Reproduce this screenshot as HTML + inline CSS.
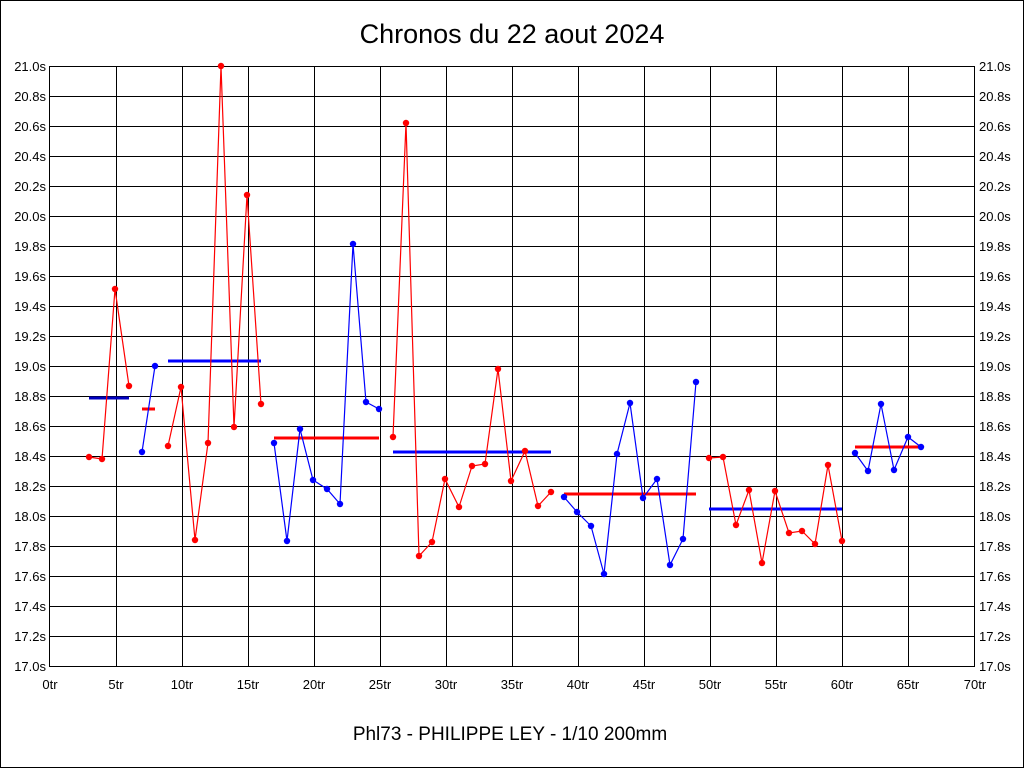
<!DOCTYPE html>
<html><head><meta charset="utf-8"><style>
html,body{margin:0;padding:0;background:#fff}
svg{display:block}
text{font-family:"Liberation Sans",sans-serif;fill:#000}
</style></head><body>
<svg width="1024" height="768" viewBox="0 0 1024 768" xmlns="http://www.w3.org/2000/svg">
<rect x="0.5" y="0.5" width="1023" height="767" fill="#fff" stroke="#000"/>
<text x="512" y="43" font-size="27" text-anchor="middle">Chronos du 22 aout 2024</text>
<text x="510" y="740" font-size="19" text-anchor="middle">Phl73 - PHILIPPE LEY - 1/10 200mm</text>
<g stroke="#000" stroke-width="1" fill="none" shape-rendering="crispEdges">
<rect x="49.5" y="66.5" width="925" height="600"/>
<path d="M116.5 66V666M182.5 66V666M248.5 66V666M314.5 66V666M380.5 66V666M446.5 66V666M512.5 66V666M578.5 66V666M644.5 66V666M710.5 66V666M776.5 66V666M842.5 66V666M908.5 66V666"/>
<path d="M50 96.5H975M50 126.5H975M50 156.5H975M50 186.5H975M50 216.5H975M50 246.5H975M50 276.5H975M50 306.5H975M50 336.5H975M50 366.5H975M50 396.5H975M50 426.5H975M50 456.5H975M50 486.5H975M50 516.5H975M50 546.5H975M50 576.5H975M50 606.5H975M50 636.5H975"/>
</g>
<g font-size="13" text-anchor="end">
<text x="46" y="71">21.0s</text><text x="46" y="101">20.8s</text><text x="46" y="131">20.6s</text><text x="46" y="161">20.4s</text><text x="46" y="191">20.2s</text><text x="46" y="221">20.0s</text><text x="46" y="251">19.8s</text><text x="46" y="281">19.6s</text><text x="46" y="311">19.4s</text><text x="46" y="341">19.2s</text><text x="46" y="371">19.0s</text><text x="46" y="401">18.8s</text><text x="46" y="431">18.6s</text><text x="46" y="461">18.4s</text><text x="46" y="491">18.2s</text><text x="46" y="521">18.0s</text><text x="46" y="551">17.8s</text><text x="46" y="581">17.6s</text><text x="46" y="611">17.4s</text><text x="46" y="641">17.2s</text><text x="46" y="671">17.0s</text>
</g>
<g font-size="13" text-anchor="start">
<text x="979" y="71">21.0s</text><text x="979" y="101">20.8s</text><text x="979" y="131">20.6s</text><text x="979" y="161">20.4s</text><text x="979" y="191">20.2s</text><text x="979" y="221">20.0s</text><text x="979" y="251">19.8s</text><text x="979" y="281">19.6s</text><text x="979" y="311">19.4s</text><text x="979" y="341">19.2s</text><text x="979" y="371">19.0s</text><text x="979" y="401">18.8s</text><text x="979" y="431">18.6s</text><text x="979" y="461">18.4s</text><text x="979" y="491">18.2s</text><text x="979" y="521">18.0s</text><text x="979" y="551">17.8s</text><text x="979" y="581">17.6s</text><text x="979" y="611">17.4s</text><text x="979" y="641">17.2s</text><text x="979" y="671">17.0s</text>
</g>
<g font-size="13" text-anchor="middle">
<text x="50" y="689">0tr</text><text x="116" y="689">5tr</text><text x="182" y="689">10tr</text><text x="248" y="689">15tr</text><text x="314" y="689">20tr</text><text x="380" y="689">25tr</text><text x="446" y="689">30tr</text><text x="512" y="689">35tr</text><text x="578" y="689">40tr</text><text x="644" y="689">45tr</text><text x="710" y="689">50tr</text><text x="776" y="689">55tr</text><text x="842" y="689">60tr</text><text x="908" y="689">65tr</text><text x="975" y="689">70tr</text>
</g>
<!-- average lines -->
<g stroke-width="3">
<line x1="89" y1="398" x2="129" y2="398" stroke="#0000c0"/>
<line x1="142" y1="409" x2="155" y2="409" stroke="#f00"/>
<line x1="168" y1="361" x2="261" y2="361" stroke="#00f"/>
<line x1="274" y1="438" x2="379" y2="438" stroke="#f00"/>
<line x1="393" y1="452" x2="551" y2="452" stroke="#00f"/>
<line x1="564" y1="494" x2="696" y2="494" stroke="#f00"/>
<line x1="709" y1="509" x2="842" y2="509" stroke="#00f"/>
<line x1="855" y1="447" x2="921" y2="447" stroke="#f00"/>
</g>
<g fill="none" stroke-width="1.2">
<polyline stroke="#f00" points="89,457 102,459 115,289 129,386"/>
<polyline stroke="#00f" points="142,452 155,366"/>
<polyline stroke="#f00" points="168,446 181,387 195,540 208,443 221,66 234,427 247,195 261,404"/>
<polyline stroke="#00f" points="274,443 287,541 300,429 313,480 327,489 340,504 353,244 366,402 379,409"/>
<polyline stroke="#f00" points="393,437 406,123 419,556 432,542 445,479 459,507 472,466 485,464 498,369 511,481 525,451 538,506 551,492"/>
<polyline stroke="#00f" points="564,497 577,512 591,526 604,574 617,454 630,403 643,498 657,479 670,565 683,539 696,382"/>
<polyline stroke="#f00" points="709,458 723,457 736,525 749,490 762,563 775,491 789,533 802,531 815,544 828,465 842,541"/>
<polyline stroke="#00f" points="855,453 868,471 881,404 894,470 908,437 921,447"/>
</g>
<g fill="#f00">
<circle cx="89" cy="457" r="3.2"/><circle cx="102" cy="459" r="3.2"/><circle cx="115" cy="289" r="3.2"/><circle cx="129" cy="386" r="3.2"/>
<circle cx="168" cy="446" r="3.2"/><circle cx="181" cy="387" r="3.2"/><circle cx="195" cy="540" r="3.2"/><circle cx="208" cy="443" r="3.2"/><circle cx="221" cy="66" r="3.2"/><circle cx="234" cy="427" r="3.2"/><circle cx="247" cy="195" r="3.2"/><circle cx="261" cy="404" r="3.2"/>
<circle cx="393" cy="437" r="3.2"/><circle cx="406" cy="123" r="3.2"/><circle cx="419" cy="556" r="3.2"/><circle cx="432" cy="542" r="3.2"/><circle cx="445" cy="479" r="3.2"/><circle cx="459" cy="507" r="3.2"/><circle cx="472" cy="466" r="3.2"/><circle cx="485" cy="464" r="3.2"/><circle cx="498" cy="369" r="3.2"/><circle cx="511" cy="481" r="3.2"/><circle cx="525" cy="451" r="3.2"/><circle cx="538" cy="506" r="3.2"/><circle cx="551" cy="492" r="3.2"/>
<circle cx="709" cy="458" r="3.2"/><circle cx="723" cy="457" r="3.2"/><circle cx="736" cy="525" r="3.2"/><circle cx="749" cy="490" r="3.2"/><circle cx="762" cy="563" r="3.2"/><circle cx="775" cy="491" r="3.2"/><circle cx="789" cy="533" r="3.2"/><circle cx="802" cy="531" r="3.2"/><circle cx="815" cy="544" r="3.2"/><circle cx="828" cy="465" r="3.2"/><circle cx="842" cy="541" r="3.2"/>
</g>
<g fill="#00f">
<circle cx="142" cy="452" r="3.2"/><circle cx="155" cy="366" r="3.2"/>
<circle cx="274" cy="443" r="3.2"/><circle cx="287" cy="541" r="3.2"/><circle cx="300" cy="429" r="3.2"/><circle cx="313" cy="480" r="3.2"/><circle cx="327" cy="489" r="3.2"/><circle cx="340" cy="504" r="3.2"/><circle cx="353" cy="244" r="3.2"/><circle cx="366" cy="402" r="3.2"/><circle cx="379" cy="409" r="3.2"/>
<circle cx="564" cy="497" r="3.2"/><circle cx="577" cy="512" r="3.2"/><circle cx="591" cy="526" r="3.2"/><circle cx="604" cy="574" r="3.2"/><circle cx="617" cy="454" r="3.2"/><circle cx="630" cy="403" r="3.2"/><circle cx="643" cy="498" r="3.2"/><circle cx="657" cy="479" r="3.2"/><circle cx="670" cy="565" r="3.2"/><circle cx="683" cy="539" r="3.2"/><circle cx="696" cy="382" r="3.2"/>
<circle cx="855" cy="453" r="3.2"/><circle cx="868" cy="471" r="3.2"/><circle cx="881" cy="404" r="3.2"/><circle cx="894" cy="470" r="3.2"/><circle cx="908" cy="437" r="3.2"/><circle cx="921" cy="447" r="3.2"/>
</g>
</svg>
</body></html>
